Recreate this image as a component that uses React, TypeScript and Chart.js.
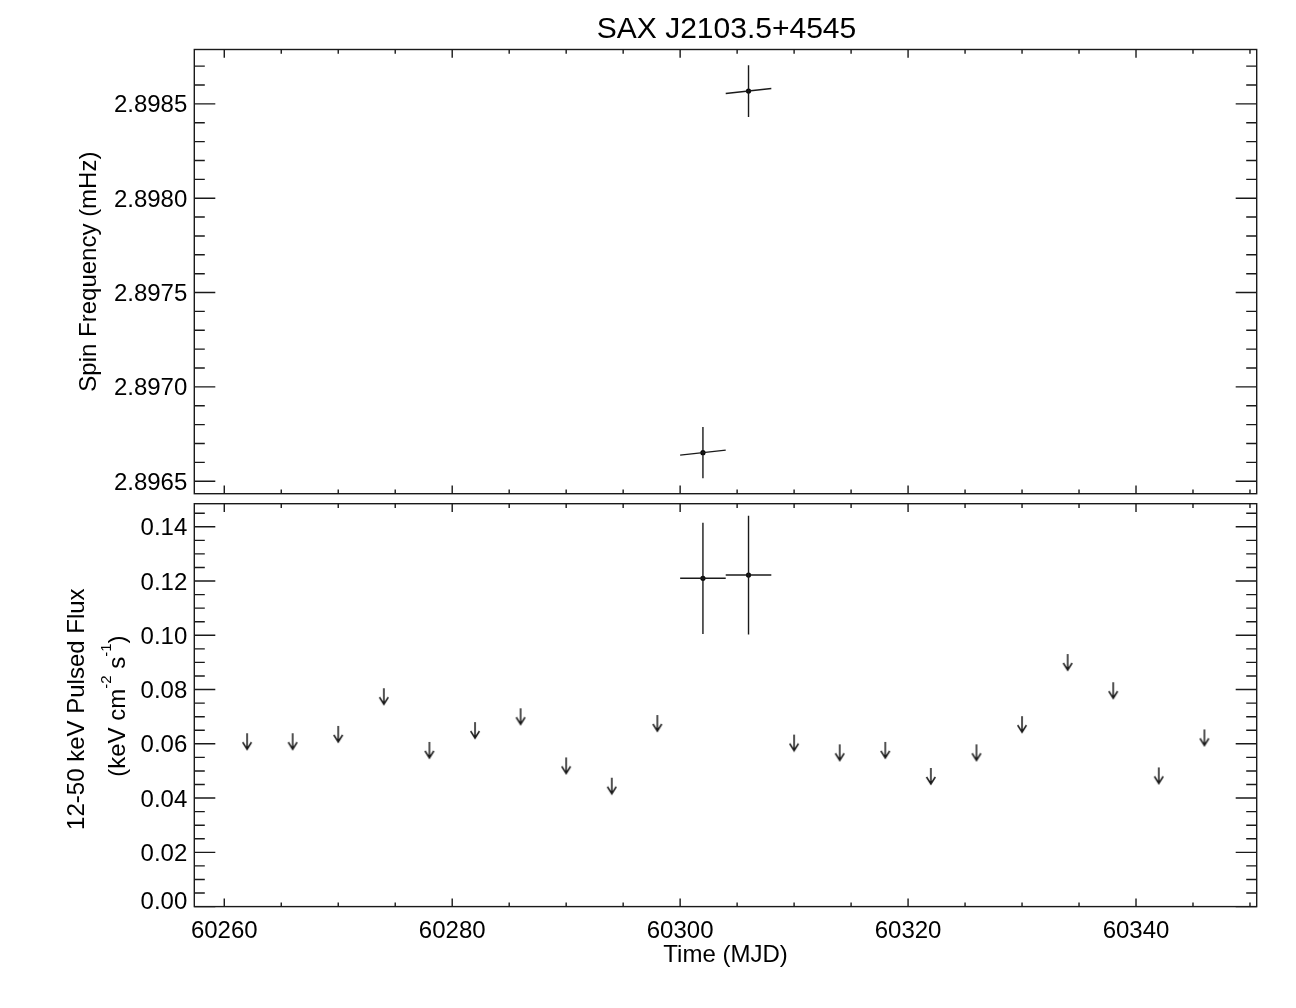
import React, { useEffect, useRef } from 'react';
import { Chart, registerables } from 'chart.js';

Chart.register(...registerables);

// ---------- text ----------
const TITLE = 'SAX J2103.5+4545';
const X_TITLE = 'Time (MJD)';
const TOP_Y_TITLE = 'Spin Frequency (mHz)';
const BOTTOM_Y_TITLE_1 = '12-50 keV Pulsed Flux';
// second line: pieces [text, isSuperscript]
const BOTTOM_Y_TITLE_2: [string, boolean][] = [
  ['(keV cm', false],
  ['-2', true],
  [' s', false],
  ['-1', true],
  [')', false],
];

// ---------- axes ----------
const X_MIN = 60257.37;
const X_MAX = 60350.59;
const X_TICKS = [60260, 60280, 60300, 60320, 60340];
const X_TICK_LABELS = ['60260', '60280', '60300', '60320', '60340'];
const X_MINOR_STEP = 5;

const TOP_Y_MIN = 2.896434;
const TOP_Y_MAX = 2.898788;
const TOP_Y_TICKS = [2.8965, 2.897, 2.8975, 2.898, 2.8985];
const TOP_Y_TICK_LABELS = ['2.8965', '2.8970', '2.8975', '2.8980', '2.8985'];
const TOP_Y_MINOR_STEP = 0.0001;

const BOTTOM_Y_MIN = 0;
const BOTTOM_Y_MAX = 0.1485;
const BOTTOM_Y_TICKS = [0, 0.02, 0.04, 0.06, 0.08, 0.1, 0.12, 0.14];
const BOTTOM_Y_TICK_LABELS = ['0.00', '0.02', '0.04', '0.06', '0.08', '0.10', '0.12', '0.14'];
const BOTTOM_Y_MINOR_STEP = 0.005;

// ---------- data ----------
const FREQ_MJD = [60302, 60306];
const FREQ_VALUES = [2.8966515, 2.8985678];
const FREQ_ERRORS = [0.000136, 0.000137];
const FREQ_HALF_WIDTH = [2, 2];
const FREQ_DERIV = [6.6e-6, 6.6e-6]; // mHz per day (slope of the time bar)

const FLUX_MJD = [60302, 60306];
const FLUX_VALUES = [0.121, 0.1222];
const FLUX_ERRORS = [0.0205, 0.0219];
const FLUX_HALF_WIDTH = [2, 2];

const LIMIT_MJD = [
  60262, 60266, 60270, 60274, 60278, 60282, 60286, 60290, 60294, 60298,
  60310, 60314, 60318, 60322, 60326, 60330, 60334, 60338, 60342, 60346,
];
const LIMIT_VALUES = [
  0.0639, 0.0639, 0.0666, 0.0805, 0.0607, 0.068, 0.0731, 0.055, 0.0475, 0.0706,
  0.0634, 0.0598, 0.0607, 0.0511, 0.0598, 0.0702, 0.0931, 0.0827, 0.0513, 0.0653,
];

// ---------- style ----------
const FONT = '"Liberation Sans", Arial, Helvetica, sans-serif';
const INK = '#1a1a1a';
const W = 1296;
const H = 1008;
const TICK_FONT = 24;
const LABEL_FONT = 24;
const TITLE_FONT = 30;

function makeArrow(): HTMLCanvasElement {
  const c = document.createElement('canvas');
  c.width = 14;
  c.height = 36;
  const g = c.getContext('2d')!;
  g.strokeStyle = INK;
  g.lineWidth = 1.5;
  g.beginPath();
  g.moveTo(7, 18);
  g.lineTo(7, 34);
  g.moveTo(2.6, 27);
  g.lineTo(7, 34);
  g.lineTo(11.4, 27);
  g.stroke();
  return c;
}

type AxisCfg = {
  id: string;
  yTicks: number[];
  yLabels: string[];
  yMinorStep: number;
  xLabels: boolean;
  titles: (ctx: CanvasRenderingContext2D, area: any) => void;
};

function minorValues(min: number, max: number, step: number): number[] {
  const out: number[] = [];
  const k0 = Math.ceil(min / step - 1e-6);
  const k1 = Math.floor(max / step + 1e-6);
  for (let k = k0; k <= k1; k++) out.push(k * step);
  return out;
}

function axesPlugin(cfg: AxisCfg) {
  return {
    id: cfg.id,
    afterDatasetsDraw(chart: any) {
      const ctx: CanvasRenderingContext2D = chart.ctx;
      const area = chart.chartArea;
      const xs = chart.scales.x;
      const ys = chart.scales.y;
      ctx.save();
      ctx.strokeStyle = INK;
      ctx.lineWidth = 1.4;
      // frame
      ctx.strokeRect(area.left, area.top, area.right - area.left, area.bottom - area.top);
      ctx.beginPath();
      // x ticks (top + bottom)
      const xMinor = minorValues(xs.min, xs.max, X_MINOR_STEP);
      for (const v of xMinor) {
        const px = xs.getPixelForValue(v);
        const major = X_TICKS.some((t) => Math.abs(t - v) < 1e-6);
        const len = major ? 8.2 : 4.2;
        ctx.moveTo(px, area.bottom);
        ctx.lineTo(px, area.bottom - len);
        ctx.moveTo(px, area.top);
        ctx.lineTo(px, area.top + len);
      }
      // y ticks (left + right)
      const yMinor = minorValues(ys.min, ys.max, cfg.yMinorStep);
      for (const v of yMinor) {
        const py = ys.getPixelForValue(v);
        const major = cfg.yTicks.some((t) => Math.abs(t - v) < cfg.yMinorStep * 1e-3);
        const len = major ? 21 : 10.5;
        ctx.moveTo(area.left, py);
        ctx.lineTo(area.left + len, py);
        ctx.moveTo(area.right, py);
        ctx.lineTo(area.right - len, py);
      }
      ctx.stroke();

      // y tick labels
      ctx.fillStyle = '#000';
      ctx.font = `${TICK_FONT}px ${FONT}`;
      ctx.textAlign = 'right';
      ctx.textBaseline = 'alphabetic';
      const half = TICK_FONT * 0.358;
      cfg.yTicks.forEach((t, i) => {
        let cy = ys.getPixelForValue(t);
        cy = Math.min(cy, area.bottom - 6.6);
        ctx.fillText(cfg.yLabels[i], area.left - 7, cy + half);
      });
      // x tick labels
      if (cfg.xLabels) {
        ctx.textAlign = 'center';
        X_TICKS.forEach((t, i) => {
          ctx.fillText(X_TICK_LABELS[i], xs.getPixelForValue(t), area.bottom + 22.4 + half);
        });
      }
      cfg.titles(ctx, area);
      ctx.restore();
    },
  };
}

function errorBarDatasets(
  mjd: number[],
  vals: number[],
  errs: number[],
  halfW: number[],
  deriv: number[] | null,
) {
  const sets: any[] = [];
  mjd.forEach((x, i) => {
    const y = vals[i];
    sets.push({
      data: [
        { x, y: y - errs[i] },
        { x, y: y + errs[i] },
      ],
    });
    const d = deriv ? deriv[i] : 0;
    sets.push({
      data: [
        { x: x - halfW[i], y: y - d * halfW[i] },
        { x: x + halfW[i], y: y + d * halfW[i] },
      ],
    });
  });
  return sets.map((s) => ({
    ...s,
    showLine: true,
    borderColor: INK,
    borderWidth: 1.4,
    pointRadius: 0,
    fill: false,
    tension: 0,
  }));
}

function pointDataset(mjd: number[], vals: number[]) {
  return {
    data: mjd.map((x, i) => ({ x, y: vals[i] })),
    showLine: false,
    pointRadius: 2.6,
    pointBorderWidth: 0,
    pointBackgroundColor: '#000',
    pointBorderColor: '#000',
  };
}

function baseOptions(padding: any, yMin: number, yMax: number) {
  return {
    responsive: false,
    maintainAspectRatio: false,
    animation: false as const,
    events: [] as any[],
    layout: { padding },
    plugins: { legend: { display: false }, tooltip: { enabled: false }, title: { display: false } },
    scales: {
      x: { type: 'linear' as const, min: X_MIN, max: X_MAX, display: false },
      y: { type: 'linear' as const, min: yMin, max: yMax, display: false },
    },
  };
}

export default function App() {
  const topRef = useRef<HTMLCanvasElement>(null);
  const botRef = useRef<HTMLCanvasElement>(null);

  useEffect(() => {
    const arrow = makeArrow();

    const topTitles = (ctx: CanvasRenderingContext2D, area: any) => {
      const cx = (area.left + area.right) / 2;
      ctx.fillStyle = '#000';
      ctx.textAlign = 'center';
      ctx.textBaseline = 'alphabetic';
      ctx.font = `${TITLE_FONT}px ${FONT}`;
      ctx.fillText(TITLE, cx + 1, 38.2);
      ctx.font = `${LABEL_FONT}px ${FONT}`;
      ctx.save();
      ctx.translate(96, (area.top + area.bottom) / 2);
      ctx.rotate(-Math.PI / 2);
      ctx.fillText(TOP_Y_TITLE, 0, 0);
      ctx.restore();
    };

    const botTitles = (ctx: CanvasRenderingContext2D, area: any) => {
      const cx = (area.left + area.right) / 2;
      const cy = (area.top + area.bottom) / 2;
      ctx.fillStyle = '#000';
      ctx.textBaseline = 'alphabetic';
      ctx.textAlign = 'center';
      ctx.font = `${LABEL_FONT}px ${FONT}`;
      ctx.fillText(X_TITLE, cx, 961.5);
      ctx.save();
      ctx.translate(84, cy + 4);
      ctx.rotate(-Math.PI / 2);
      ctx.fillText(BOTTOM_Y_TITLE_1, 0, 0);
      ctx.restore();
      // second line with superscripts
      const mainFont = `${LABEL_FONT}px ${FONT}`;
      const supFont = `15px ${FONT}`;
      let total = 0;
      const widths = BOTTOM_Y_TITLE_2.map(([t, sup]) => {
        ctx.font = sup ? supFont : mainFont;
        const w = ctx.measureText(t).width;
        total += w;
        return w;
      });
      ctx.save();
      ctx.translate(125, cy + 1);
      ctx.rotate(-Math.PI / 2);
      ctx.textAlign = 'left';
      let x = -total / 2;
      BOTTOM_Y_TITLE_2.forEach(([t, sup], i) => {
        ctx.font = sup ? supFont : mainFont;
        ctx.fillText(t, x, sup ? -14 : 0);
        x += widths[i];
      });
      ctx.restore();
    };

    const top = new Chart(topRef.current!, {
      type: 'scatter',
      data: {
        datasets: [
          ...errorBarDatasets(FREQ_MJD, FREQ_VALUES, FREQ_ERRORS, FREQ_HALF_WIDTH, FREQ_DERIV),
          pointDataset(FREQ_MJD, FREQ_VALUES),
        ],
      },
      options: baseOptions(
        { left: 194.3, right: W - 1256.7, top: 49.5, bottom: H - 493.7 },
        TOP_Y_MIN,
        TOP_Y_MAX,
      ) as any,
      plugins: [
        axesPlugin({
          id: 'topAxes',
          yTicks: TOP_Y_TICKS,
          yLabels: TOP_Y_TICK_LABELS,
          yMinorStep: TOP_Y_MINOR_STEP,
          xLabels: false,
          titles: topTitles,
        }),
      ],
    });

    const bottom = new Chart(botRef.current!, {
      type: 'scatter',
      data: {
        datasets: [
          ...errorBarDatasets(FLUX_MJD, FLUX_VALUES, FLUX_ERRORS, FLUX_HALF_WIDTH, null),
          pointDataset(FLUX_MJD, FLUX_VALUES),
          {
            data: LIMIT_MJD.map((x, i) => ({ x, y: LIMIT_VALUES[i] })),
            showLine: false,
            pointStyle: arrow as any,
            pointRadius: 10,
          } as any,
        ],
      },
      options: baseOptions(
        { left: 194.3, right: W - 1256.7, top: 503.7, bottom: H - 906.6 },
        BOTTOM_Y_MIN,
        BOTTOM_Y_MAX,
      ) as any,
      plugins: [
        axesPlugin({
          id: 'bottomAxes',
          yTicks: BOTTOM_Y_TICKS,
          yLabels: BOTTOM_Y_TICK_LABELS,
          yMinorStep: BOTTOM_Y_MINOR_STEP,
          xLabels: true,
          titles: botTitles,
        }),
      ],
    });

    return () => {
      top.destroy();
      bottom.destroy();
    };
  }, []);

  const canvasStyle: React.CSSProperties = {
    position: 'absolute',
    left: 0,
    top: 0,
    width: W,
    height: H,
  };

  return (
    <div style={{ position: 'absolute', left: 0, top: 0, width: W, height: H, background: '#fff' }}>
      <canvas ref={topRef} width={W} height={H} style={canvasStyle} />
      <canvas ref={botRef} width={W} height={H} style={canvasStyle} />
    </div>
  );
}
